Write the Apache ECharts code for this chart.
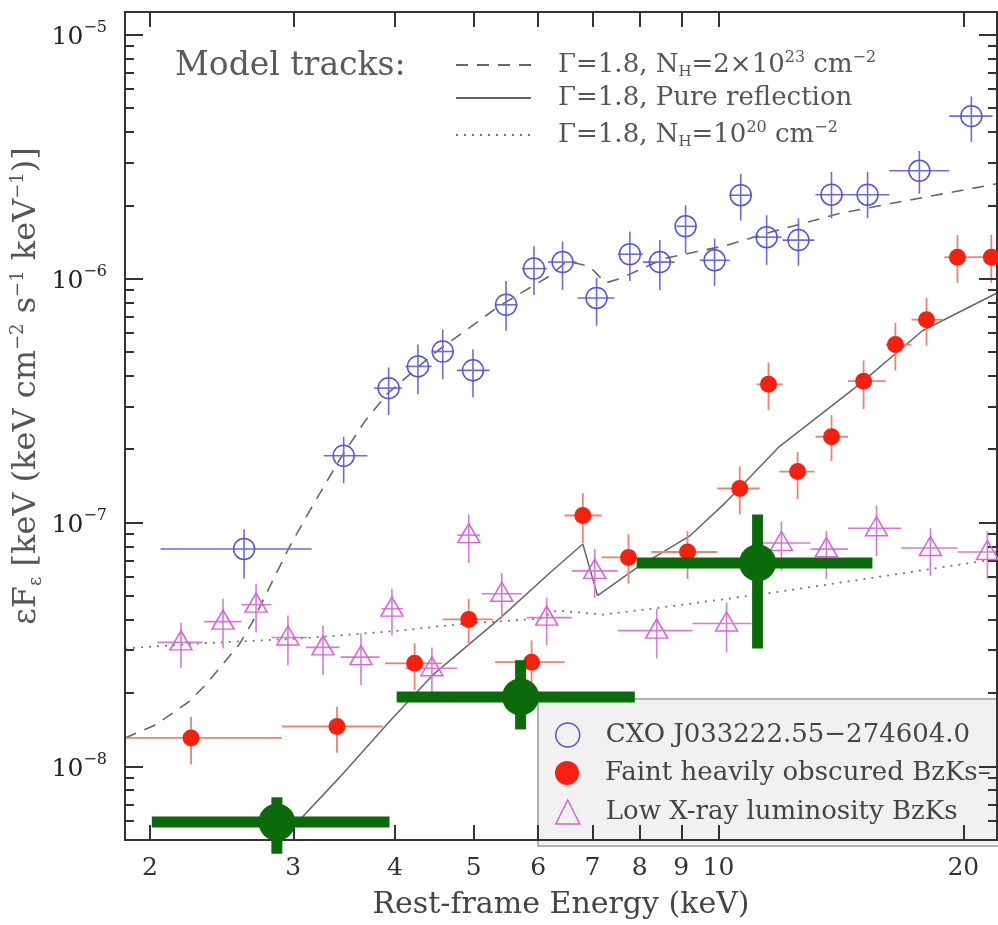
<!DOCTYPE html>
<html>
<head>
<meta charset="utf-8">
<title>Rest-frame spectra</title>
<script src="https://cdn.jsdelivr.net/npm/echarts@6/dist/echarts.min.js"></script>
<style>
  html, body { margin: 0; padding: 0; background: #fff; }
  #chart { width: 998px; height: 925px; }
</style>
</head>
<body>
<div id="chart"></div>
<script>
// rows: [energy keV, eF_e, x low, x high, y low, y high]
var cxoRows = [
    [2.61, 7.8e-8, 2.06, 3.16, 5.9e-8, 9.4e-8],
    [3.46, 1.88e-7, 3.27, 3.70, 1.45e-7, 2.25e-7],
    [3.93, 3.56e-7, 3.77, 4.08, 2.76e-7, 4.33e-7],
    [4.27, 4.37e-7, 4.12, 4.44, 3.36e-7, 5.37e-7],
    [4.58, 5.03e-7, 4.44, 4.72, 3.87e-7, 6.18e-7],
    [4.99, 4.21e-7, 4.77, 5.23, 3.27e-7, 5.13e-7],
    [5.48, 7.82e-7, 5.31, 5.66, 6.12e-7, 9.78e-7],
    [5.93, 1.10e-6, 5.73, 6.15, 8.58e-7, 1.36e-6],
    [6.43, 1.17e-6, 6.17, 6.69, 9.0e-7, 1.42e-6],
    [7.08, 8.34e-7, 6.71, 7.45, 6.42e-7, 1.01e-6],
    [7.78, 1.26e-6, 7.52, 8.07, 9.78e-7, 1.56e-6],
    [8.47, 1.17e-6, 8.07, 8.83, 9.0e-7, 1.44e-6],
    [9.11, 1.64e-6, 8.88, 9.40, 1.27e-6, 2.0e-6],
    [9.89, 1.19e-6, 9.48, 10.32, 9.34e-7, 1.46e-6],
    [10.65, 2.2e-6, 10.32, 11.0, 1.73e-6, 2.69e-6],
    [11.46, 1.48e-6, 10.98, 11.95, 1.14e-6, 1.82e-6],
    [12.54, 1.44e-6, 11.99, 13.12, 1.13e-6, 1.77e-6],
    [13.77, 2.21e-6, 13.16, 14.37, 1.77e-6, 2.74e-6],
    [15.25, 2.21e-6, 14.37, 16.22, 1.77e-6, 2.74e-6],
    [17.66, 2.77e-6, 16.22, 19.22, 2.23e-6, 3.34e-6],
    [20.46, 4.64e-6, 19.22, 21.72, 3.63e-6, 5.59e-6]
];

var faintRows = [
    [2.246, 1.31e-8, 1.80, 2.905, 1.02e-8, 1.60e-8],
    [3.395, 1.46e-8, 2.905, 3.867, 1.14e-8, 1.76e-8],
    [4.23, 2.65e-8, 3.89, 4.57, 2.06e-8, 3.20e-8],
    [4.93, 4.01e-8, 4.58, 5.28, 3.14e-8, 4.88e-8],
    [5.89, 2.68e-8, 5.31, 6.47, 2.16e-8, 3.29e-8],
    [6.81, 1.07e-7, 6.47, 7.18, 8.25e-8, 1.32e-7],
    [7.75, 7.2e-8, 7.18, 7.93, 5.62e-8, 8.97e-8],
    [9.16, 7.58e-8, 8.27, 9.97, 5.88e-8, 9.23e-8],
    [10.62, 1.38e-7, 9.97, 11.23, 1.08e-7, 1.70e-7],
    [11.52, 3.69e-7, 11.14, 11.99, 2.89e-7, 4.54e-7],
    [12.51, 1.62e-7, 11.88, 13.12, 1.25e-7, 1.95e-7],
    [13.77, 2.25e-7, 13.16, 14.43, 1.79e-7, 2.76e-7],
    [15.08, 3.80e-7, 14.43, 16.06, 2.92e-7, 4.62e-7],
    [16.50, 5.37e-7, 16.06, 17.27, 4.21e-7, 6.60e-7],
    [18.02, 6.79e-7, 17.27, 18.85, 5.32e-7, 8.34e-7],
    [19.67, 1.225e-6, 18.95, 20.51, 9.61e-7, 1.51e-6],
    [21.65, 1.225e-6, 20.51, 23.0, 9.61e-7, 1.51e-6]
];

var lowRows = [
    [2.183, 3.23e-8, 2.04, 2.32, 2.53e-8, 3.89e-8],
    [2.459, 3.93e-8, 2.33, 2.59, 3.05e-8, 4.88e-8],
    [2.70, 4.61e-8, 2.59, 2.82, 3.55e-8, 5.62e-8],
    [2.955, 3.38e-8, 2.82, 3.12, 2.60e-8, 4.16e-8],
    [3.263, 3.08e-8, 3.11, 3.42, 2.37e-8, 3.79e-8],
    [3.634, 2.81e-8, 3.43, 3.83, 2.16e-8, 3.51e-8],
    [3.967, 4.44e-8, 3.85, 4.09, 3.45e-8, 5.36e-8],
    [4.442, 2.53e-8, 4.12, 4.77, 2.0e-8, 3.08e-8],
    [4.931, 8.89e-8, 4.77, 5.09, 6.84e-8, 1.08e-7],
    [5.414, 5.11e-8, 5.11, 5.73, 4.04e-8, 6.22e-8],
    [6.148, 4.08e-8, 5.81, 6.60, 3.14e-8, 4.92e-8],
    [7.044, 6.34e-8, 6.60, 7.52, 4.92e-8, 7.79e-8],
    [8.394, 3.61e-8, 7.52, 9.29, 2.78e-8, 4.44e-8],
    [10.23, 3.86e-8, 9.29, 10.98, 2.94e-8, 4.70e-8],
    [11.95, 8.25e-8, 11.23, 12.98, 6.34e-8, 1.01e-7],
    [13.57, 7.79e-8, 12.98, 14.43, 5.88e-8, 9.23e-8],
    [15.64, 9.49e-8, 14.43, 16.78, 7.30e-8, 1.17e-7],
    [18.22, 7.87e-8, 16.78, 19.67, 6.05e-8, 9.49e-8],
    [21.41, 7.58e-8, 19.67, 23.0, 5.88e-8, 9.23e-8]
];

// big green stacked points
var stackRows = [
    [2.864, 5.92e-9, 2.01, 3.94, 4.39e-9, 7.48e-9],
    [5.71, 1.93e-8, 4.02, 7.89, 1.42e-8, 2.73e-8],
    [11.17, 6.84e-8, 7.93, 15.46, 3.05e-8, 1.08e-7]
];

// model tracks [energy, eF_e]
var modelNH23 = [[1.863, 1.31e-8], [2.03, 1.48e-8], [2.23, 1.84e-8], [2.34, 2.16e-8], [2.45, 2.60e-8],
    [2.57, 3.14e-8], [2.67, 3.89e-8], [2.81, 5.51e-8], [2.97, 8.0e-8], [3.19, 1.22e-7], [3.42, 1.81e-7],
    [3.67, 2.59e-7], [3.91, 3.36e-7], [4.45, 4.89e-7], [5.38, 7.74e-7], [6.20, 1.026e-6], [6.51, 1.18e-6],
    [6.94, 1.125e-6], [7.26, 9.61e-7], [7.56, 1.0e-6], [8.58, 1.21e-6], [10.23, 1.37e-6], [11.65, 1.56e-6],
    [14.08, 1.85e-6], [17.02, 2.09e-6], [22, 2.45e-6]];
var modelRefl = [[2.83, 4.6e-9], [3.42, 9.03e-9], [3.94, 1.53e-8], [4.45, 2.37e-8], [5.38, 4.04e-8],
    [6.20, 6.22e-8], [6.81, 8.17e-8], [7.10, 5.02e-8], [7.93, 6.52e-8], [9.21, 8.80e-8], [10.23, 1.22e-7],
    [11.88, 2.05e-7], [14.90, 3.69e-7], [17.81, 6.12e-7], [22, 8.74e-7]];
var modelNH20 = [[1.863, 3.05e-8], [2.304, 3.20e-8], [3.06, 3.35e-8], [4.06, 3.61e-8], [4.90, 3.86e-8],
    [6.03, 4.04e-8], [6.32, 4.36e-8], [7.20, 4.20e-8], [8.30, 4.44e-8], [11.65, 5.16e-8], [15.46, 5.94e-8],
    [22, 7.10e-8]];

// axes
var xMin = 1.863, xMax = 22, yMin = 5e-9, yMax = 1.24e-5;
var xTicks = [2, 3, 4, 5, 6, 7, 8, 9, 10, 20];
var yMajor = [1e-8, 1e-7, 1e-6, 1e-5];
var yDecades = [1e-9, 1e-8, 1e-7, 1e-6, 1e-5];
var yMinorSteps = [2, 3, 4, 5, 6, 7, 8, 9];

var FONT = 'DejaVu Serif';
var BLUE = '#5454d4', BLUE_BAR = '#6c6cd8';
var RED = '#f52010', RED_BAR = '#ec8272';
var MAG = '#d962d9', MAG_BAR = '#d77ad7';
var GREEN = '#0b6b0b';
var FRAME = '#333';

var lg = Math.log10;
var yMinor = [];
yDecades.forEach(function (d) {
    yMinorSteps.forEach(function (s) {
        var v = d * s;
        if (v >= yMin && v <= yMax) yMinor.push(v);
    });
});

function errorBars(color, width) {
    return function (params, api) {
        var x = api.value(0), y = api.value(1);
        var l = api.coord([api.value(2), y]);
        var r = api.coord([api.value(3), y]);
        var b = api.coord([x, api.value(4)]);
        var t = api.coord([x, api.value(5)]);
        var st = { stroke: color, lineWidth: width };
        return {
            type: 'group',
            children: [
                { type: 'line', shape: { x1: l[0], y1: l[1], x2: r[0], y2: r[1] }, style: st },
                { type: 'line', shape: { x1: t[0], y1: t[1], x2: b[0], y2: b[1] }, style: st }
            ]
        };
    };
}

function tickXAxis(pos, showLabels) {
    return {
        type: 'value', position: pos, min: lg(xMin), max: lg(xMax), z: 3,
        axisLine: { show: true, onZero: false, lineStyle: { color: FRAME, width: 2 } },
        axisTick: { show: true, inside: true, length: 15, customValues: xTicks.map(lg), lineStyle: { color: FRAME, width: 2 } },
        axisLabel: {
            show: showLabels, customValues: xTicks.map(lg), margin: 16,
            fontFamily: FONT, fontSize: 25, color: '#333',
            formatter: function (v) { return Math.round(Math.pow(10, v)); }
        },
        splitLine: { show: false }
    };
}

function tickYAxis(pos, vals, len, showLabels) {
    return {
        type: 'value', position: pos, min: lg(yMin), max: lg(yMax), z: 3,
        axisLine: { show: true, onZero: false, lineStyle: { color: FRAME, width: 2 } },
        axisTick: { show: true, inside: true, length: len, customValues: vals.map(lg), lineStyle: { color: FRAME, width: 2 } },
        axisLabel: {
            show: showLabels, customValues: vals.map(lg), margin: 18,
            formatter: function (v) { return '{b|10}{s|\u2212' + Math.abs(Math.round(v)) + '}'; },
            rich: {
                b: { fontFamily: FONT, fontSize: 25, color: '#222', lineHeight: 30, verticalAlign: 'bottom' },
                s: { fontFamily: FONT, fontSize: 16, color: '#222', lineHeight: 30, verticalAlign: 'top' }
            }
        },
        splitLine: { show: false }
    };
}

var textRich = {
    n: { fontFamily: FONT, fontSize: 26, color: '#555', lineHeight: 30 },
    sub: { fontFamily: FONT, fontSize: 15, color: '#555', lineHeight: 30, verticalAlign: 'bottom' },
    sup: { fontFamily: FONT, fontSize: 16, color: '#555', lineHeight: 30, verticalAlign: 'top' }
};
var modelLabels = {
    nh23: '{n|\u0393=1.8, N}{sub|H}{n|=2\u00d710}{sup|23}{n| cm}{sup|\u22122}',
    refl: '{n|\u0393=1.8, Pure reflection}',
    nh20: '{n|\u0393=1.8, N}{sub|H}{n|=10}{sup|20}{n| cm}{sup|\u22122}'
};

function modelLegend(name, top) {
    return {
        data: [name], left: 455, top: top, padding: 0, itemWidth: 75, itemHeight: 14,
        selectedMode: false,
        itemStyle: { color: 'transparent', borderWidth: 0, opacity: 0 },
        formatter: function (n) { return modelLabels[n]; },
        textStyle: { padding: [0, 0, 0, 22], rich: textRich }
    };
}

var NAME_CXO = 'CXO J033222.55\u2212274604.0';
var NAME_FAINT = 'Faint heavily obscured BzKs\u2013';
var NAME_LOW = 'Low X-ray luminosity BzKs';

function pointLegend(name, top, icon, style) {
    return {
        data: [name], left: 555, top: top, padding: 0, itemWidth: 24, itemHeight: 24,
        icon: icon, itemStyle: style, selectedMode: false,
        textStyle: { padding: [0, 0, 0, 21], fontFamily: FONT, fontSize: 26, color: '#444', lineHeight: 30 }
    };
}

var chart = echarts.init(document.getElementById('chart'));

var option = {
    animation: false,
    backgroundColor: '#fff',
    grid: { left: 125, right: 1, top: 12, bottom: 79, containLabel: false },
    graphic: [
        {
            type: 'rect', z: 1, silent: true,
            shape: { x: 538, y: 699, width: 470, height: 147 },
            style: { fill: '#f1f1f1', stroke: '#9a9a9a', lineWidth: 1.5 }
        },
        {
            type: 'text', x: 175, y: 66, silent: true,
            style: { text: 'Model tracks:', fontFamily: FONT, fontSize: 33, fill: '#5a5a5a', verticalAlign: 'middle' }
        }
    ],
    legend: [
        modelLegend('nh23', 50),
        modelLegend('refl', 85),
        modelLegend('nh20', 120),
        pointLegend(NAME_CXO, 720, 'circle', { color: 'transparent', borderColor: BLUE, borderWidth: 1.5 }),
        pointLegend(NAME_FAINT, 758, 'circle', { color: RED, borderWidth: 0 }),
        pointLegend(NAME_LOW, 797, 'triangle', { color: 'transparent', borderColor: MAG, borderWidth: 1.5 })
    ],
    xAxis: [
        {
            type: 'log', logBase: 10, min: xMin, max: xMax,
            axisLine: { show: false }, axisTick: { show: false }, axisLabel: { show: false },
            splitLine: { show: false },
            name: 'Rest-frame Energy (keV)', nameLocation: 'middle', nameGap: 50,
            nameTextStyle: { fontFamily: FONT, fontSize: 30, color: '#444' }
        },
        tickXAxis('bottom', true),
        tickXAxis('top', false)
    ],
    yAxis: [
        {
            type: 'log', logBase: 10, min: yMin, max: yMax,
            axisLine: { show: false }, axisTick: { show: false }, axisLabel: { show: false },
            splitLine: { show: false },
            name: '{n|\u03b5F}{sub|\u03b5}{n| [keV (keV cm}{sup|\u22122}{n| s}{sup|\u22121}{n| keV}{sup|\u22121}{n|)]}',
            nameLocation: 'middle', nameGap: 80, nameRotate: 90,
            nameTextStyle: {
                padding: [0, 0, 0, 80],
                rich: {
                    n: { fontFamily: FONT, fontSize: 32, color: '#555', lineHeight: 36 },
                    sub: { fontFamily: FONT, fontSize: 18, color: '#555', lineHeight: 36, verticalAlign: 'bottom' },
                    sup: { fontFamily: FONT, fontSize: 18, color: '#555', lineHeight: 36, verticalAlign: 'top' }
                }
            }
        },
        tickYAxis('left', yMajor, 18, true),
        tickYAxis('left', yMinor, 9, false),
        tickYAxis('right', yMajor, 18, false),
        tickYAxis('right', yMinor, 9, false)
    ],
    series: [
        {
            name: 'nh23', type: 'line', data: modelNH23, symbol: 'none', silent: true, z: 2,
            itemStyle: { color: '#666' },
            lineStyle: { color: '#666', width: 1.6, type: [12, 9] }
        },
        {
            name: 'refl', type: 'line', data: modelRefl, symbol: 'none', silent: true, z: 2,
            itemStyle: { color: '#666' },
            lineStyle: { color: '#666', width: 1.5, type: 'solid' }
        },
        {
            name: 'nh20', type: 'line', data: modelNH20, symbol: 'none', silent: true, z: 2,
            itemStyle: { color: '#777' },
            lineStyle: { color: '#777', width: 1.8, type: [2, 6] }
        },
        {
            name: 'cxoErr', type: 'custom', data: cxoRows, clip: true, silent: true, z: 3,
            encode: { x: 0, y: 1 }, renderItem: errorBars(BLUE_BAR, 1.6)
        },
        {
            name: NAME_CXO, type: 'scatter', data: cxoRows, encode: { x: 0, y: 1 }, silent: true, z: 4,
            symbol: 'circle', symbolSize: 21,
            itemStyle: { color: 'transparent', borderColor: BLUE, borderWidth: 1.5, opacity: 1 }
        },
        {
            name: 'faintErr', type: 'custom', data: faintRows, clip: true, silent: true, z: 3,
            encode: { x: 0, y: 1 }, renderItem: errorBars(RED_BAR, 1.8)
        },
        {
            name: NAME_FAINT, type: 'scatter', data: faintRows, encode: { x: 0, y: 1 }, silent: true, z: 4,
            symbol: 'circle', symbolSize: 17, itemStyle: { color: RED, opacity: 1 }
        },
        {
            name: 'lowErr', type: 'custom', data: lowRows, clip: true, silent: true, z: 3,
            encode: { x: 0, y: 1 }, renderItem: errorBars(MAG_BAR, 1.6)
        },
        {
            name: NAME_LOW, type: 'scatter', data: lowRows, encode: { x: 0, y: 1 }, silent: true, z: 4,
            symbol: 'triangle', symbolSize: [22, 19], symbolOffset: [0, -2],
            itemStyle: { color: 'transparent', borderColor: MAG, borderWidth: 1.5, opacity: 1 }
        },
        {
            name: 'stackErr', type: 'custom', data: stackRows, silent: true, z: 5,
            encode: { x: 0, y: 1 }, renderItem: errorBars(GREEN, 11)
        },
        {
            name: 'stack', type: 'scatter', data: stackRows, encode: { x: 0, y: 1 }, silent: true, z: 5,
            symbol: 'circle', symbolSize: 37, itemStyle: { color: GREEN, opacity: 1 }
        }
    ]
};

chart.setOption(option);
</script>
</body>
</html>
